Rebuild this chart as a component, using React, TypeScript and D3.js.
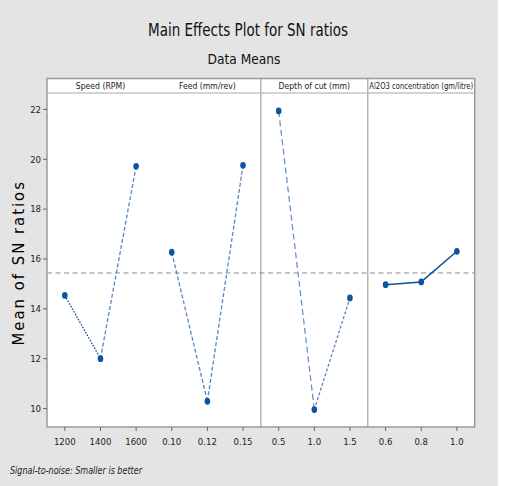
import React from "react";
import { scaleBand, scaleLinear, line, mean } from "d3";

// Taguchi main effects (smaller is better)
const factors = ["Speed (RPM)", "Feed (mm/rev)", "Depth of cut (mm)", "Al2O3 concentration (gm/litre)"];
const levelLabels = [
  ["1200", "1400", "1600"],
  ["0.10", "0.12", "0.15"],
  ["0.5", "1.0", "1.5"],
  ["0.6", "0.8", "1.0"],
];
const speedSN = [14.54, 12.0, 19.72];
const feedSN = [16.27, 10.29, 19.76];
const depthSN = [21.94, 9.96, 14.44];
const aluminaSN = [14.97, 15.08, 16.31];
const yTicks = [10, 12, 14, 16, 18, 20, 22];

const seriesValues = [speedSN, feedSN, depthSN, aluminaSN];

// dash pattern of each connecting segment, per factor
const segDash = [
  ["1.6,1.4", "4,2.2"],
  ["4,2.2", "4,2.2"],
  ["6,3.5", "3,2"],
  ["", ""],
];
const segColor = [
  ["#1f4f8f", "#5b86bf"],
  ["#5b86bf", "#5b86bf"],
  ["#6b93c6", "#5b86bf"],
  ["#0b4f9c", "#0b4f9c"],
];

const W = 507;
const H = 486;
const left = 47;
const right = 474.7;
const top = 78.5;
const stripBottom = 93;
const bottom = 427;
const font = "'DejaVu Sans Condensed', 'DejaVu Sans', sans-serif";

export default function App() {
  const n = factors.length;
  const idx = Array.from({ length: n * 3 }, (_, i) => i);
  const x = scaleBand<number>().domain(idx).range([left, right]).padding(0);
  const cx = (i: number) => (x(i) ?? 0) + x.bandwidth() / 2;
  const y = scaleLinear().domain([9.26, 22.66]).range([bottom, stripBottom]);

  const grand = mean(seriesValues.flat()) ?? 0;
  const panelW = x.bandwidth() * 3;
  const seg = line<[number, number]>()
    .x((d) => d[0])
    .y((d) => d[1]);

  return (
    <svg width={W} height={H} style={{ position: "absolute", left: 0, top: 0 }}>
      <rect x={0} y={0} width={498} height={H} fill="#e4e4e4" />
      <rect x={498} y={0} width={W - 498} height={H} fill="#ffffff" />

      <text
        x={248}
        y={36}
        textAnchor="middle"
        fontFamily={font}
        fontSize={18}
        textLength={200}
        lengthAdjust="spacingAndGlyphs"
        fill="#111"
      >
        Main Effects Plot for SN ratios
      </text>
      <text
        x={244}
        y={64}
        textAnchor="middle"
        fontFamily={font}
        fontSize={13.5}
        textLength={73}
        lengthAdjust="spacingAndGlyphs"
        fill="#111"
      >
        Data Means
      </text>

      {/* plot area */}
      <rect x={left} y={top} width={right - left} height={bottom - top} fill="#fff" />
      <line x1={left} x2={right} y1={stripBottom} y2={stripBottom} stroke="#a8a8a8" strokeWidth={1} />
      {[2, 3].map((k) => (
        <line
          key={k}
          x1={left + panelW * k}
          x2={left + panelW * k}
          y1={top}
          y2={bottom}
          stroke="#b4b4b4"
          strokeWidth={1.5}
        />
      ))}
      {factors.map((f, k) => (
        <text
          key={f}
          x={left + panelW * (k + 0.5)}
          y={88.5}
          textAnchor="middle"
          fontFamily={font}
          fontSize={8.6}
          textLength={k === 3 ? 104 : undefined}
          lengthAdjust="spacingAndGlyphs"
          fill="#222"
        >
          {f}
        </text>
      ))}

      {/* grand mean reference */}
      <line
        x1={left}
        x2={right}
        y1={y(grand)}
        y2={y(grand)}
        stroke="#8c8c8c"
        strokeWidth={1}
        strokeDasharray="5,3.5"
      />

      {seriesValues.map((vals, k) =>
        vals.slice(1).map((v, j) => {
          const i0 = k * 3 + j;
          const d = seg([
            [cx(i0), y(vals[j])],
            [cx(i0 + 1), y(v)],
          ]);
          return (
            <path
              key={`${k}-${j}`}
              d={d ?? ""}
              fill="none"
              stroke={segColor[k][j]}
              strokeWidth={k === 3 ? 1.5 : 1.3}
              strokeDasharray={segDash[k][j] || undefined}
            />
          );
        })
      )}
      {seriesValues.map((vals, k) =>
        vals.map((v, j) => (
          <ellipse key={`p${k}-${j}`} cx={cx(k * 3 + j)} cy={y(v)} rx={2.8} ry={3.4} fill="#0b55a3" />
        ))
      )}

      <rect
        x={left}
        y={top}
        width={right - left}
        height={bottom - top}
        fill="none"
        stroke="#9a9a9a"
        strokeWidth={1.5}
      />

      {/* y axis */}
      {yTicks.map((t) => (
        <g key={t}>
          <line x1={left - 4} x2={left} y1={y(t)} y2={y(t)} stroke="#666" />
          <text
            x={left - 6}
            y={y(t)}
            dy="0.35em"
            textAnchor="end"
            fontFamily={font}
            fontSize={9.5}
            fill="#222"
          >
            {t}
          </text>
        </g>
      ))}
      <text
        transform={`translate(24,${(top + bottom) / 2 + 10}) rotate(-90)`}
        textAnchor="middle"
        fontFamily={font}
        fontSize={16.5}
        letterSpacing={2}
        fill="#000"
      >
        Mean of SN ratios
      </text>

      {/* x axis */}
      {idx.map((i) => (
        <g key={i}>
          <line x1={cx(i)} x2={cx(i)} y1={bottom} y2={bottom + 4} stroke="#666" />
          <text x={cx(i)} y={445} textAnchor="middle" fontFamily={font} fontSize={9.5} fill="#222">
            {levelLabels[Math.floor(i / 3)][i % 3]}
          </text>
        </g>
      ))}

      <text
        x={10}
        y={474}
        fontFamily={font}
        fontSize={9.6}
        fontStyle="italic"
        textLength={132}
        lengthAdjust="spacingAndGlyphs"
        fill="#222"
      >
        Signal-to-noise: Smaller is better
      </text>
    </svg>
  );
}
